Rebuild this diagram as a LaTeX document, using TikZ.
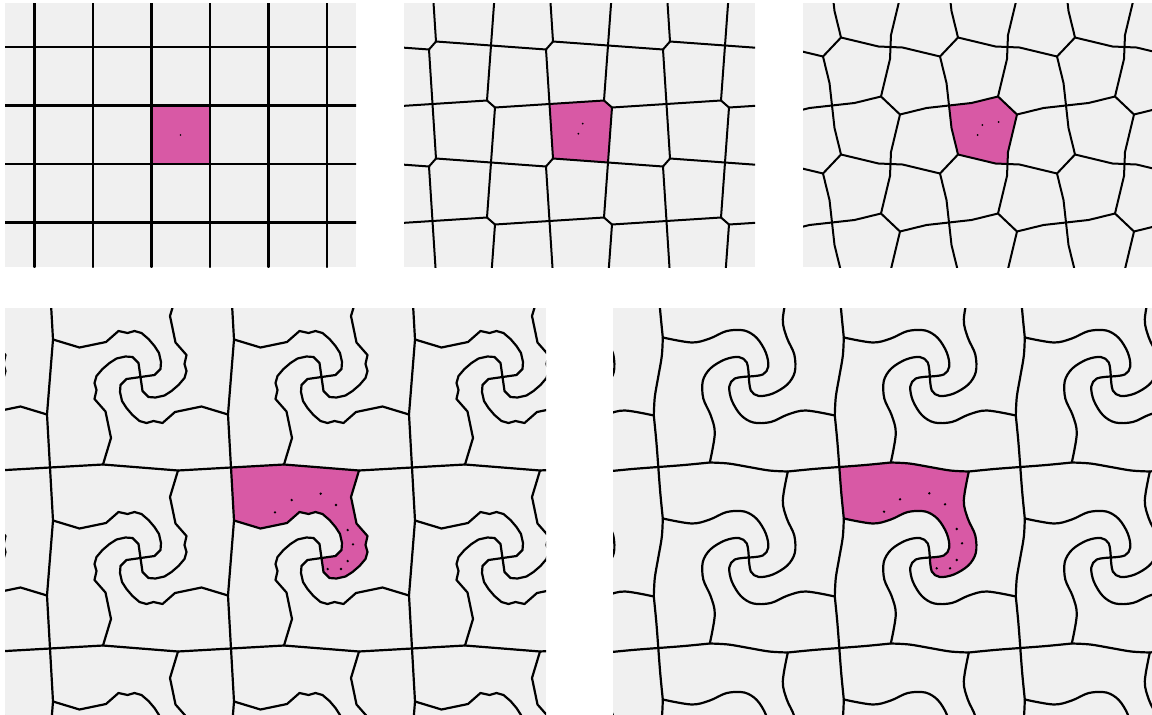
\documentclass[tikz,border=0pt]{standalone}
\usepackage{tikz}
\definecolor{panelbg}{RGB}{240,240,240}
\definecolor{tilepink}{RGB}{216,89,165}
% panel 2 (near-square cells)
\newcommand\tArmB{(0,0) -- (4,-55)}
\newcommand\tTopB{(-58.5,-58.5) -- (-4,-62) -- (4,-55) -- (58.5,-58.5)}
% panel 3
\newcommand\tArmC{(0,0) -- (0.5,-12) -- (9.5,-49.5)}
\newcommand\tTopC{(-58.5,-58.5) -- (-36,-61) -- (-9.5,-67.5) -- (9.5,-49.5) -- (36,-56) -- (58.5,-58.5)}
% panel 4 (polygonal swirl)
\newcommand\tArmD{(0,0) -- (2,14) -- (8,20) -- (15,20.5) -- (24,18.5) -- (31,14) -- (38,8) -- (44,1) -- (46,-6) -- (44,-13) -- (46,-22) -- (35,-34.5) -- (29.5,-61) -- (37.5,-87.5)}
\newcommand\tTopD{(-90.5,-90.5) -- (-37.5,-93.5) -- (37.5,-87.5) -- (90.5,-90.5)}
% panel 5 (smooth swirl)
\newcommand\tArmE{plot[smooth,tension=0.55] coordinates {(0,0) (2,14) (10,19.5) (24,17) (38.5,8) (46,-4.5) (45.5,-22) (38,-39) (34,-57) (39,-86)}}
\newcommand\tTopE{plot[smooth,tension=0.55] coordinates {(-90.5,-90.5) (-64.5,-92.5) (-39,-95)} plot[smooth,tension=0.55] coordinates {(-39,-95) (-20.5,-94) (0,-90.5) (20.5,-87) (39,-86)} plot[smooth,tension=0.55] coordinates {(39,-86) (64.5,-88.5) (90.5,-90.5)}}
% one cell of a p4 tiling, centred on the origin
\newcommand\tCell[2]{%
  \foreach \r in {0,90,180,270}{\draw[rotate=\r] #1;}%
  \draw #2;%
  \draw[rotate=90] #2;}
\begin{document}
\begin{tikzpicture}[x=1pt,y=-1pt,line join=round,line cap=round,
  edge/.style={line width=2.2pt,draw=black},
  thinedge/.style={line width=2pt,draw=black}]
\useasboundingbox (0,0) rectangle (1152,715);
\fill[white] (0,0) rectangle (1152,715);

% ---------- panel 1 : square grid ----------
\fill[panelbg] (5,3) rectangle (356,267);
\begin{scope}[edge]
  \clip (5,3) rectangle (356,267);
  \fill[tilepink] (151.5,105.5) rectangle (210,164);
  \foreach \k in {0,...,5} \draw ({34.5+58.5*\k},3) -- ({34.5+58.5*\k},267);
  \foreach \k in {0,...,3} \draw (5,{47+58.5*\k}) -- (356,{47+58.5*\k});
  \fill[black] (180.5,135) circle (0.9pt);
\end{scope}

% ---------- panel 2 ----------
\fill[panelbg] (404,3) rectangle (755,267);
\begin{scope}[thinedge]
  \clip (404,3) rectangle (755,267);
  \begin{scope}[shift={(608,162.5)}]
    \fill[tilepink] (-58.5,-58.5) -- (-4,-62) -- (4,-55) -- (0,0) -- (-55,-4) -- cycle;
  \end{scope}
  \foreach \i in {-2,...,2}{\foreach \j in {-2,...,1}{
    \begin{scope}[shift={({608+117*\i},{162.5+117*\j})}]
      \tCell{\tArmB}{\tTopB}
    \end{scope}}}
  \foreach \x/\y in {582.7/123.7, 578.3/133.7} \fill[black] (\x,\y) circle (1pt);
\end{scope}

% ---------- panel 3 ----------
\fill[panelbg] (803,3) rectangle (1152,267);
\begin{scope}[thinedge]
  \clip (803,3) rectangle (1152,267);
  \begin{scope}[shift={(1007.5,164)}]
    \fill[tilepink] (-58.5,-58.5) -- (-36,-61) -- (-9.5,-67.5) -- (9.5,-49.5) -- (0.5,-12) -- (0,0) -- (-12,-0.5) -- (-49.5,-9.5) -- (-56,-36) -- cycle;
  \end{scope}
  \foreach \i in {-2,...,2}{\foreach \j in {-2,...,1}{
    \begin{scope}[shift={({1007.5+117*\i},{164+117*\j})}]
      \tCell{\tArmC}{\tTopC}
    \end{scope}}}
  \foreach \x/\y in {982.3/125, 998.7/122, 977.7/135} \fill[black] (\x,\y) circle (1pt);
\end{scope}

% ---------- panel 4 ----------
\fill[panelbg] (5,308) rectangle (546,715);
\begin{scope}[edge]
  \clip (5,308) rectangle (546,715);
  \begin{scope}[shift={(321.5,558)}]
    \fill[tilepink] (-90.5,-90.5) -- (-37.5,-93.5) -- (37.5,-87.5) -- (29.5,-61) -- (35,-34.5) -- (46,-22) -- (44,-13) -- (46,-6) -- (44,1) -- (38,8) -- (31,14) -- (24,18.5) -- (15,20.5) -- (8,20) -- (2,14) -- (0,0) -- (14,-2) -- (20,-8) -- (20.5,-15) -- (18.5,-24) -- (14,-31) -- (8,-38) -- (1,-44) -- (-6,-46) -- (-13,-44) -- (-22,-46) -- (-34.5,-35) -- (-61,-29.5) -- (-87.5,-37.5) -- cycle;
  \end{scope}
  \foreach \i in {-2,...,2}{\foreach \j in {-2,...,1}{
    \begin{scope}[shift={({321.5+181*\i},{558+181*\j})}]
      \tCell{\tArmD}{\tTopD}
    \end{scope}}}
  \foreach \x/\y in {275/512.3, 291.7/500, 320.7/493.7, 336/505, 347.7/530, 353/544.3, 347.7/561, 341/569, 327.7/569}
    \fill[black] (\x,\y) circle (1.3pt);
\end{scope}

% ---------- panel 5 ----------
\fill[panelbg] (613,308) rectangle (1152,715);
\begin{scope}[edge]
  \clip (613,308) rectangle (1152,715);
  \begin{scope}[shift={(929.8,557.5)}]
    \fill[tilepink] (-90.5,-90.5)
      -- plot[smooth,tension=0.55] coordinates {(-90.5,-90.5) (-64.5,-92.5) (-39,-95)}
      -- plot[smooth,tension=0.55] coordinates {(-39,-95) (-20.5,-94) (0,-90.5) (20.5,-87) (39,-86)}
      -- plot[smooth,tension=0.55] coordinates {(39,-86) (34,-57) (38,-39) (45.5,-22) (46,-4.5) (38.5,8) (24,17) (10,19.5) (2,14) (0,0)}
      -- plot[smooth,tension=0.55] coordinates {(0,0) (14,-2) (19.5,-10) (17,-24) (8,-38.5) (-4.5,-46) (-22,-45.5) (-39,-38) (-57,-34) (-86,-39)}
      -- plot[smooth,tension=0.55] coordinates {(-86,-39) (-88.5,-64.5) (-90.5,-90.5)}
      -- cycle;
  \end{scope}
  \foreach \i in {-2,...,2}{\foreach \j in {-2,...,1}{
    \begin{scope}[shift={({929.8+181*\i},{557.5+181*\j})}]
      \tCell{\tArmE}{\tTopE}
    \end{scope}}}
  \foreach \x/\y in {884/511.7, 900/499.3, 929.3/493.3, 945/504.3, 956.7/529, 962/543.3, 956.7/560, 950/568.3, 936.7/568.3}
    \fill[black] (\x,\y) circle (1.3pt);
\end{scope}
\end{tikzpicture}
\end{document}
